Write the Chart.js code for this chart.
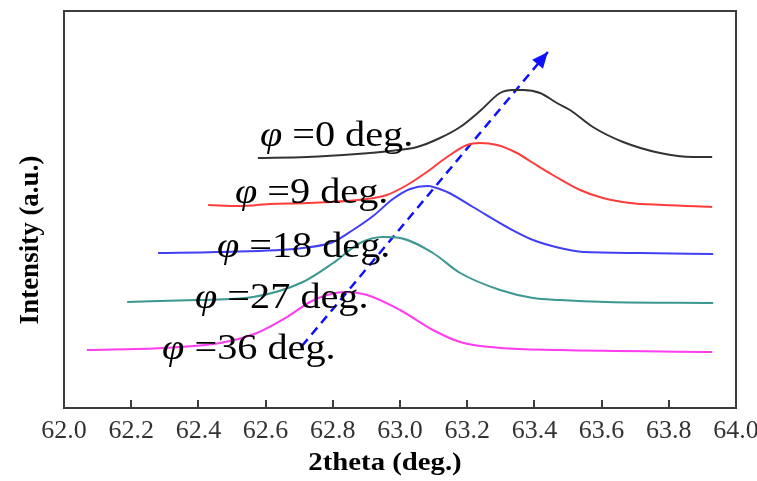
<!DOCTYPE html>
<html>
<head>
<meta charset="utf-8">
<style>
  html, body { margin: 0; padding: 0; background: #fff; }
</style>
<script src="https://cdn.jsdelivr.net/npm/chart.js@4.4.0/dist/chart.umd.min.js"></script>
</head>
<body>
<canvas id="xrdChart" width="757" height="481"></canvas>
<script>
// tick labels on the 2theta axis
const xTicks = [62.0, 62.2, 62.4, 62.6, 62.8, 63.0, 63.2, 63.4, 63.6, 63.8, 64.0];

// tilt angles (deg.) and the colour of each trace
const angles = [0, 9, 18, 27, 36];
const colors = ['#333333', '#ff3c3c', '#3f3ff5', '#3a9890', '#ff3cf0'];

// stacked traces, intensity in a.u. (offset included)
const x0 = [62.577, 62.723, 62.872, 62.970, 63.051, 63.119, 63.179, 63.238, 63.298, 63.336, 63.366, 63.417, 63.467, 63.506, 63.574, 63.664, 63.774, 63.872, 63.929];
const y0 = [250, 251, 254, 257, 261, 270, 281, 297, 315, 318, 318, 315, 305, 298, 281, 266, 255, 251, 251];

const x9 = [62.429, 62.524, 62.613, 62.723, 62.902, 62.961, 63.021, 63.080, 63.140, 63.199, 63.238, 63.289, 63.348, 63.396, 63.455, 63.536, 63.604, 63.685, 63.783, 63.929];
const y9 = [203, 202, 204, 205, 209, 213, 223, 236, 251, 263, 265, 263, 255, 245, 233, 218, 210, 205, 203, 201];

const x18 = [62.280, 62.455, 62.711, 62.801, 62.860, 62.920, 62.979, 63.030, 63.080, 63.140, 63.217, 63.318, 63.396, 63.476, 63.545, 63.714, 63.932];
const y18 = [155, 156, 160, 166, 178, 192, 209, 219, 222, 216, 201, 181, 168, 160, 156, 155, 154];

const x27 = [62.188, 62.396, 62.563, 62.711, 62.801, 62.881, 62.949, 63.000, 63.098, 63.179, 63.298, 63.396, 63.476, 63.616, 63.932];
const y27 = [106, 108, 111, 126, 145, 165, 171, 170, 155, 135, 118, 110, 108, 106, 105];

const x36 = [62.068, 62.295, 62.464, 62.574, 62.664, 62.732, 62.783, 62.836, 62.902, 63.000, 63.098, 63.179, 63.298, 63.476, 63.929];
const y36 = [58, 60, 65, 75, 91, 106, 113, 116, 113, 98, 78, 66, 60, 58, 56];

// dashed arrow showing the peak shift (start, tip)
const arrowX = [62.708, 63.440];
const arrowY = [62, 356];

// curve labels: anchor of the phi glyph (2theta, a.u.)
const labelX = [62.583, 62.509, 62.455, 62.390, 62.292];
const labelY = [262, 205, 151, 100, 49];

const traceX = [x0, x9, x18, x27, x36];
const traceY = [y0, y9, y18, y27, y36];

const toPoints = (xs, ys) => xs.map((x, i) => ({ x, y: ys[i] }));

const datasets = traceX.map((xs, i) => ({
  label: 'phi = ' + angles[i] + ' deg.',
  data: toPoints(xs, traceY[i]),
  borderColor: colors[i],
  borderWidth: 2,
  pointRadius: 0,
  cubicInterpolationMode: 'monotone',
  fill: false
}));

datasets.push({
  label: 'shift',
  data: toPoints(arrowX, arrowY),
  borderColor: '#1010ff',
  borderWidth: 2.5,
  borderDash: [9, 6],
  pointRadius: 0,
  fill: false
});

const SERIF = '"Liberation Serif", "Times New Roman", serif';

// frame, inward ticks, arrow head, curve labels and axis titles
const decorPlugin = {
  id: 'decor',
  afterDatasetsDraw(chart) {
    const { ctx, chartArea: a, scales: { x, y } } = chart;
    ctx.save();

    // frame
    ctx.strokeStyle = '#3c3c3c';
    ctx.lineWidth = 2;
    ctx.strokeRect(a.left, a.top, a.right - a.left, a.bottom - a.top);

    // inward tick marks
    ctx.beginPath();
    xTicks.slice(1, -1).forEach(v => {
      const px = Math.round(x.getPixelForValue(v));
      ctx.moveTo(px, a.bottom);
      ctx.lineTo(px, a.bottom - 8);
    });
    ctx.stroke();

    // arrow head
    const meta = chart.getDatasetMeta(datasets.length - 1);
    const p0 = meta.data[0], p1 = meta.data[1];
    const ang = Math.atan2(p1.y - p0.y, p1.x - p0.x);
    const len = 16, half = 7;
    ctx.fillStyle = '#1010ff';
    ctx.beginPath();
    ctx.moveTo(p1.x, p1.y);
    ctx.lineTo(p1.x - len * Math.cos(ang) + half * Math.sin(ang), p1.y - len * Math.sin(ang) - half * Math.cos(ang));
    ctx.lineTo(p1.x - len * Math.cos(ang) - half * Math.sin(ang), p1.y - len * Math.sin(ang) + half * Math.cos(ang));
    ctx.closePath();
    ctx.fill();

    // curve labels
    ctx.fillStyle = '#000';
    ctx.textBaseline = 'alphabetic';
    ctx.textAlign = 'left';
    angles.forEach((deg, i) => {
      const px = x.getPixelForValue(labelX[i]);
      const py = y.getPixelForValue(labelY[i]);
      ctx.save();
      ctx.translate(px, py);
      ctx.scale(1.15, 1);
      ctx.font = 'italic 35px ' + SERIF;
      ctx.fillText('\u03C6', 0, 0);
      const w = ctx.measureText('\u03C6').width;
      ctx.font = '35px ' + SERIF;
      ctx.fillText(' =' + deg + ' deg.', w, 0);
      ctx.restore();
    });

    // axis titles
    ctx.textAlign = 'center';
    ctx.textBaseline = 'middle';
    ctx.save();
    ctx.translate(385, 464);
    ctx.scale(1.15, 1);
    ctx.font = 'bold 25px ' + SERIF;
    ctx.fillText('2theta (deg.)', 0, 0);
    ctx.restore();

    ctx.save();
    ctx.translate(31, 240);
    ctx.rotate(-Math.PI / 2);
    ctx.font = 'bold 27px ' + SERIF;
    ctx.fillText('Intensity (a.u.)', 0, 0);
    ctx.restore();

    ctx.restore();
  }
};

const chart = new Chart(document.getElementById('xrdChart'), {
  type: 'line',
  data: { datasets },
  options: {
    responsive: false,
    devicePixelRatio: 1,
    animation: false,
    layout: { padding: { left: 64, right: 21, top: 11, bottom: 0 } },
    plugins: {
      legend: { display: false },
      tooltip: { enabled: false }
    },
    scales: {
      x: {
        type: 'linear',
        min: 62,
        max: 64,
        afterBuildTicks: s => { s.ticks = xTicks.map(v => ({ value: v })); },
        afterFit: s => {
          s.height = 73;
          s.paddingLeft = 0;
          s.paddingRight = 0;
        },
        ticks: {
          callback: v => Number(v).toFixed(1),
          color: '#333',
          padding: 8,
          maxRotation: 0,
          autoSkip: false,
          font: { family: SERIF, size: 26 }
        },
        grid: { display: false, drawTicks: false },
        border: { display: false }
      },
      y: {
        type: 'linear',
        display: false,
        min: 0,
        max: 397
      }
    }
  },
  plugins: [decorPlugin]
});
</script>
</body>
</html>
